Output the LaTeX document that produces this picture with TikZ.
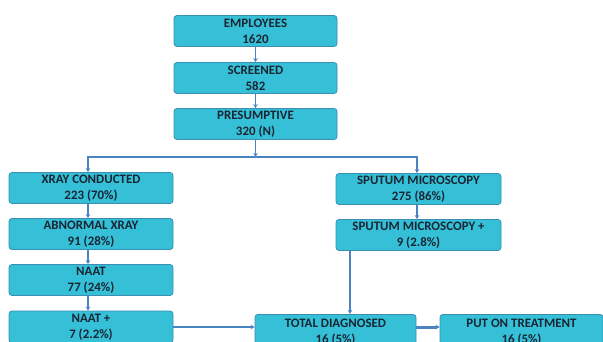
\documentclass[tikz,border=0pt]{standalone}
\usepackage{fontspec}
\setmainfont{Carlito}
\usetikzlibrary{arrows.meta}
\definecolor{boxfill}{HTML}{35C0D7}
\definecolor{boxline}{HTML}{3B8DB2}
\definecolor{arrcol}{HTML}{4A84C2}
\definecolor{txtcol}{HTML}{1A2533}
\tikzset{
  box/.style={draw=boxline, line width=0.8pt, fill=boxfill, rounded corners=3pt,
    minimum width=163pt, minimum height=31pt, inner sep=0pt, align=center,
    text=txtcol, font=\fontsize{12.9}{16}\selectfont\bfseries},
  conn/.style={draw=arrcol, line width=1.8pt, -{Stealth[length=4pt,width=4.5pt]}},
  plain/.style={draw=arrcol, line width=1.8pt}
}
\begin{document}
\begin{tikzpicture}[x=1pt,y=-1pt]
\useasboundingbox (0,0) rectangle (603,342);
\clip (0,0) rectangle (603,342);
\node[box] (emp) at (255.5,31) {EMPLOYEES\\1620};
\node[box] (scr) at (255.5,78) {SCREENED\\582};
\node[box] (pre) at (255.5,124) {PRESUMPTIVE\\320 (N)};
\node[box, minimum width=164pt] (xray) at (91,188) {XRAY CONDUCTED\\223 (70\%)};
\node[box, minimum width=164pt] (abn) at (91,234) {ABNORMAL XRAY\\91 (28\%)};
\node[box, minimum width=164pt] (naat) at (91,280) {NAAT\\77 (24\%)};
\node[box, minimum width=164pt, minimum height=32pt] (naatp) at (91,327) {NAAT +\\7 (2.2\%)};
\node[box, minimum width=165pt] (sput) at (418.5,189) {SPUTUM MICROSCOPY\\275 (86\%)};
\node[box, minimum width=165pt] (sputp) at (418.5,235) {SPUTUM MICROSCOPY +\\9 (2.8\%)};
\node[box, minimum width=161pt, minimum height=36pt, anchor=north] (tot) at (335.5,314) {TOTAL DIAGNOSED\\16 (5\%)};
\node[box, minimum width=163pt, minimum height=36pt, anchor=north] (put) at (521.5,314) {PUT ON TREATMENT\\16 (5\%)};
\coordinate (bc) at (255.5,157);
\coordinate (bl) at (88,157);
\coordinate (brr) at (417,157);
\draw[conn] (emp) -- (scr);
\draw[conn] (scr) -- (pre);
\draw[conn] (pre) -- (bc);
\draw[plain] ([xshift=-0.9pt]bl) -- ([xshift=0.9pt]brr);
\draw[conn] (bl) -- (xray.north -| bl);
\draw[conn] (brr) -- (sput.north -| brr);
\draw[conn] (xray.south -| bl) -- (abn.north -| bl);
\draw[conn] (abn.south -| bl) -- (naat.north -| bl);
\draw[conn] (naat.south -| bl) -- (naatp.north -| bl);
\draw[conn] (sput.south -| brr) -- (sputp.north -| brr);
\draw[conn, line width=2.4pt] (sputp.south -| 350,0) -- (tot.north -| 350,0);
\draw[conn] (naatp.east) -- (naatp.east -| tot.west);
\draw[conn, line width=3pt] (tot.east |- 0,327) -- (put.west |- 0,327);
\end{tikzpicture}
\end{document}
